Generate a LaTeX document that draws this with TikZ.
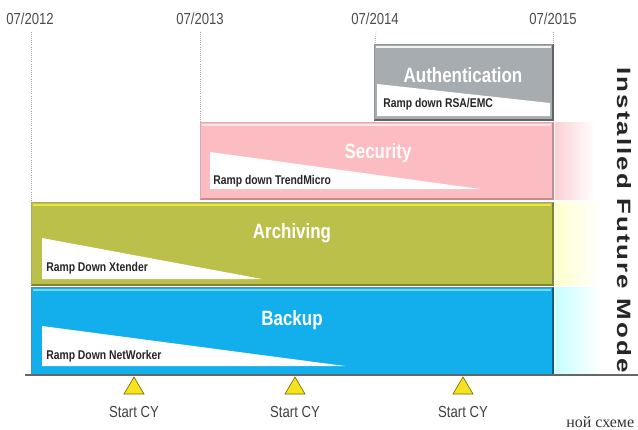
\documentclass[tikz,border=0pt]{standalone}
\usepackage{fontspec}
\setmainfont{Liberation Sans}
\newfontfamily\narrowfont[FakeStretch=0.82]{Liberation Sans}
\newfontfamily\spacedfont[LetterSpace=8]{Liberation Sans}
\newfontfamily\cyrfont{Liberation Serif}
\definecolor{authfill}{HTML}{A6ACAF}
\definecolor{authedge}{HTML}{5F6467}
\definecolor{secfill}{HTML}{FBBDC2}
\definecolor{secedge}{HTML}{C98A90}
\definecolor{archfill}{HTML}{BBC04A}
\definecolor{archedge}{HTML}{7E8430}
\definecolor{archtop}{HTML}{ECE63C}
\definecolor{backfill}{HTML}{12AFEC}
\definecolor{backedge}{HTML}{0A5E86}
\definecolor{backtop}{HTML}{6EDCFF}
\definecolor{tri}{HTML}{F4E31E}
\definecolor{triedge}{HTML}{7C6C00}
\tikzset{
  datelbl/.style={font=\narrowfont\fontsize{12}{12}\selectfont, text=black!70},
  boxtitle/.style={font=\narrowfont\bfseries\fontsize{15.5}{15.5}\selectfont, text=white},
  ramptext/.style={font=\narrowfont\bfseries\fontsize{9.5}{9.5}\selectfont, text=black!85, anchor=west, inner sep=0pt},
  guide/.style={densely dotted, gray!70, line width=0.6pt},
  ramp/.style={fill=white},
  milestone/.style={fill=tri, draw=triedge, line width=0.5pt},
  startlbl/.style={font=\narrowfont\fontsize{12}{12}\selectfont, text=black!75},
}
\begin{document}
\begin{tikzpicture}[x=0.75pt,y=-0.75pt]
\useasboundingbox (0,0) rectangle (638,429);
\fill[white] (0,0) rectangle (638,429);

% date labels
\node[datelbl] (d12) at (30,19) {07/2012};
\node[datelbl] (d13) at (200,19) {07/2013};
\node[datelbl] (d14) at (375,19) {07/2014};
\node[datelbl] (d15) at (553,19) {07/2015};

% guides
\coordinate (g12) at (31,202);
\coordinate (g13) at (200,122);
\coordinate (g14) at (375,44);
\coordinate (g15) at (553,44);
\draw[guide] (d12.south) ++(1,2) -- (g12);
\draw[guide] (d13.south) ++(0,2) -- (g13);
\draw[guide] (d14.south) ++(1,2) -- (g14);
\draw[guide] (d15.south) ++(0,2) -- (g15);

% fades on the right
\shade[left color=secfill!70, right color=white] (555,122) rectangle (595,199);
\shade[left color=yellow!20, right color=white] (555,202) rectangle (600,285);
\shade[left color=cyan!22, right color=white] (555,287) rectangle (600,375);

% Authentication
\fill[authfill] (374,44) rectangle (553,120);
\draw[white!85!authfill, line width=1.2pt] (376,47) -- (551,47);
\fill[ramp] (377,84) -- (550,103) -- (550,116) -- (377,116) -- cycle;
\draw[authedge, line width=1pt] (374,120) -- (553,120) -- (553,44);
\draw[authedge!70, line width=0.6pt] (374,120) -- (374,44) -- (553,44);
\node[boxtitle] (auth) at (463,75) {Authentication};
\node[ramptext] (authramp) at (383,104) {Ramp down RSA/EMC};

% Security
\fill[secfill] (200,122) rectangle (553,199);
\draw[white!60!secfill, line width=1.2pt] (202,125) -- (551,125);
\fill[ramp] (210,152) -- (480,189) -- (210,189) -- cycle;
\draw[secedge, line width=0.8pt] (200,199) -- (553,199) -- (553,122);
\draw[secedge!70, line width=0.6pt] (200,199) -- (200,122) -- (553,122);
\node[boxtitle, text=white!92!secfill] (sec) at (378,153) {Security};
\node[ramptext] (secramp) at (213,181) {Ramp down TrendMicro};

% Archiving
\fill[archfill] (31,202) rectangle (553,285);
\draw[archtop, line width=1.5pt] (33,205) -- (551,205);
\fill[ramp] (42,238) -- (262,279) -- (42,279) -- cycle;
\draw[archedge, line width=0.8pt] (31,285) -- (553,285) -- (553,202);
\draw[archedge!70, line width=0.6pt] (31,285) -- (31,202) -- (553,202);
\node[boxtitle] (arch) at (292,233) {Archiving};
\node[ramptext] (archramp) at (46,268) {Ramp Down Xtender};

% Backup
\fill[backfill] (31,287) rectangle (553,375);
\draw[backtop, line width=1.5pt] (33,290) -- (551,290);
\fill[ramp] (42,326) -- (345,366) -- (42,366) -- cycle;
\draw[backedge, line width=0.9pt] (31,375) -- (553,375) -- (553,287);
\draw[backedge!70, line width=0.6pt] (31,375) -- (31,287) -- (553,287);
\node[boxtitle] (back) at (292,320) {Backup};
\node[ramptext] (backramp) at (46,356) {Ramp Down NetWorker};

% axis
\coordinate (axL) at (25,375);
\coordinate (axR) at (638,375);
\draw[gray!80!black, line width=0.8pt] (axL) -- (axR);

% vertical label
\node[rotate=-90, font=\spacedfont\bfseries\fontsize{14.5}{14.5}\selectfont, text=black!85] (mode) at (624,220) {\scalebox{1.34}[1]{Installed Future Mode}};

% milestones
\foreach \x/\n in {134/a,295/b,463/c}{
  \fill[milestone] (\x,377) -- (\x+10,394) -- (\x-10,394) -- cycle;
  \node[startlbl] (start\n) at (\x,412) {Start CY};
}

% text at the bottom edge
\node[font=\cyrfont\fontsize{12}{12}\selectfont, anchor=base west, inner sep=0pt, text=black!80] (cut) at (566,427) {ной схеме};
\end{tikzpicture}
\end{document}
